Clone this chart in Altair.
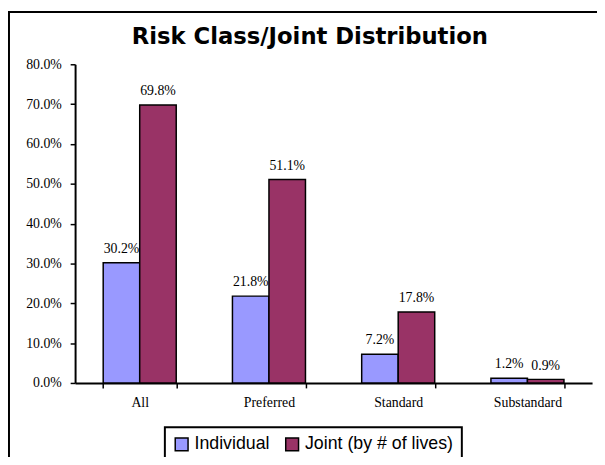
import altair as alt
import pandas as pd

categories = ["All", "Preferred", "Standard", "Substandard"]
series = ["Individual", "Joint (by # of lives)"]
individual = [0.302, 0.218, 0.072, 0.012]
joint = [0.698, 0.511, 0.178, 0.009]
y_ticks = [0.0, 0.1, 0.2, 0.3, 0.4, 0.5, 0.6, 0.7, 0.8]
colors = ["#9999FF", "#993366"]

rows = []
for i, c in enumerate(categories):
    rows.append({"cat": c, "series": series[0], "value": individual[i]})
    rows.append({"cat": c, "series": series[1], "value": joint[i]})
df = pd.DataFrame(rows)

SERIF = "Liberation Serif"
SANS = "Liberation Sans"

x_enc = alt.X("cat:N", sort=categories, title=None,
              scale=alt.Scale(paddingInner=0.435, paddingOuter=0.2175),
              axis=alt.Axis(labelAngle=0, tickBand="extent", domainColor="black",
                            domainWidth=2, tickColor="black", tickWidth=1.5, tickSize=5,
                            labelFont=SERIF, labelFontSize=14, labelColor="black",
                            labelPadding=8, grid=False))
xo_enc = alt.XOffset("series:N", sort=series, scale=alt.Scale(paddingInner=0, paddingOuter=0))
y_enc = alt.Y("value:Q", title=None,
              scale=alt.Scale(domain=[0, 0.8], nice=False, zero=True),
              axis=alt.Axis(values=y_ticks, format=".1%", domainColor="black",
                            domainWidth=2, tickColor="black", tickWidth=1.5, tickSize=5,
                            labelFont=SERIF, labelFontSize=14, labelColor="black",
                            labelPadding=9, grid=False))

bars = alt.Chart(df).mark_bar(stroke="black", strokeWidth=1.5).encode(
    x=x_enc,
    xOffset=xo_enc,
    y=y_enc,
    color=alt.Color("series:N", sort=series, title=None,
                    scale=alt.Scale(domain=series, range=colors),
                    legend=alt.Legend(orient="none", legendX=91, legendY=368,
                                      direction="horizontal", symbolType="square",
                                      symbolSize=169, symbolStrokeColor="black",
                                      symbolStrokeWidth=1.5, labelFont=SANS,
                                      labelFontSize=18, labelColor="black",
                                      labelOffset=4, columnPadding=12, padding=8,
                                      strokeColor="black")),
)

labels = alt.Chart(df).mark_text(font=SERIF, fontSize=14, color="black",
                                 baseline="alphabetic", dy=-10).encode(
    x=alt.X("cat:N", sort=categories),
    xOffset=alt.XOffset("series:N", sort=series),
    y=alt.Y("value:Q"),
    text=alt.Text("value:Q", format=".1%"),
)

border = alt.Chart(pd.DataFrame({"k": [0]})).mark_rect(
    fill="transparent", stroke="black", strokeWidth=2).encode(
    x=alt.value(-67), x2=alt.value(700), y=alt.value(-53), y2=alt.value(600))

chart = alt.layer(border, bars, labels).properties(
    width=524, height=323,
    title=alt.TitleParams("Risk Class/Joint Distribution", font="DejaVu Sans",
                          fontWeight="bold", fontSize=23, color="black",
                          anchor="middle", dx=-24, offset=0, dy=38),
    autosize=alt.AutoSizeParams(type="none"),
    padding={"left": 68, "top": 54, "right": 5, "bottom": 72},
).configure_view(stroke=None).configure_legend(strokeWidth=2)

chart.save("out.html", embed_options={"renderer": "svg", "actions": False})
